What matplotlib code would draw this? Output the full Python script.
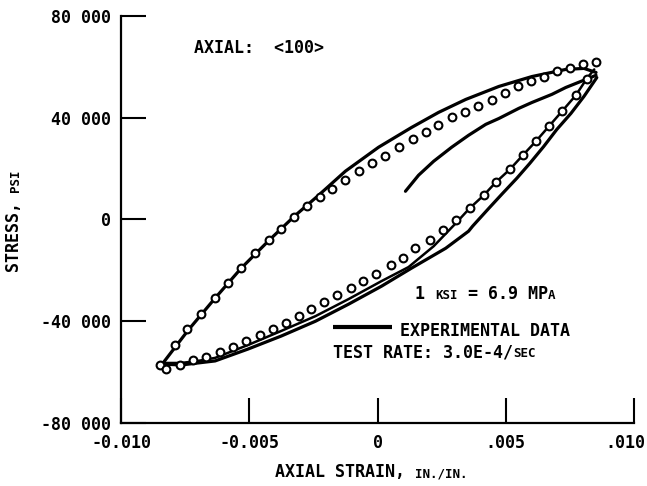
import matplotlib
matplotlib.use("Agg")
import matplotlib.pyplot as plt
import matplotlib.transforms as mtransforms

# ---- data -------------------------------------------------------------
# Model points (open circles): tensile-going branch, then compressive-going branch
model_up_strain = [-0.00848, -0.00789, -0.00742, -0.00688, -0.00633, -0.00582, -0.00531,
                   -0.00477, -0.00422, -0.00375, -0.00324, -0.00273, -0.00223, -0.00176,
                   -0.00125, -0.00074, -0.00023, 0.00031, 0.00082, 0.00137, 0.00188,
                   0.00234, 0.00289, 0.00340, 0.00391, 0.00445, 0.00496, 0.00547,
                   0.00598, 0.00648, 0.00699, 0.00750, 0.00801, 0.00852]
model_up_stress = [-57200, -49300, -43000, -37200, -30900, -25000, -19100, -13200, -8100,
                   -3800, 900, 5200, 8800, 11900, 15400, 19000, 22100, 24800, 28400,
                   31500, 34300, 37000, 40200, 42100, 44500, 46800, 49600, 52300, 54300,
                   56200, 58200, 59400, 61300, 62100]

model_down_strain = [0.00816, 0.00773, 0.00719, 0.00668, 0.00617, 0.00566, 0.00516, 0.00461,
                     0.00414, 0.00359, 0.00305, 0.00254, 0.00203, 0.00148, 0.00098, 0.00051,
                     -0.00004, -0.00055, -0.00105, -0.00156, -0.00207, -0.00258, -0.00305,
                     -0.00355, -0.00406, -0.00457, -0.00512, -0.00563, -0.00613, -0.00668,
                     -0.00719, -0.00770, -0.00824]
model_down_stress = [55400, 48800, 42500, 36600, 30700, 25200, 19700, 14600, 9500, 4400,
                     -300, -4200, -8100, -11300, -15200, -17900, -21500, -24200, -27000,
                     -29700, -32500, -35200, -38000, -40700, -43100, -45400, -47800, -50100,
                     -52100, -54000, -55300, -57200, -58800]

# Experimental data: loading branch of the stable loop
exp_up_strain = [-0.00836, -0.00738, -0.00633, -0.00531, -0.00422, -0.00324, -0.00230,
                 -0.00125, 0.00004, 0.00133, 0.00238, 0.00344, 0.00473, 0.00602, 0.00734,
                 0.00805, 0.00852]
exp_up_stress = [-56400, -43500, -30900, -19100, -8100, 1300, 9500, 19000, 28400, 36200,
                 42100, 47200, 52300, 56200, 59000, 59400, 57800]

# Experimental data: unloading branch of the stable loop
exp_down_strain = [0.00855, 0.00805, 0.00754, 0.00699, 0.00648, 0.00594, 0.00543, 0.00488,
                   0.00434, 0.00371, 0.00355, 0.00266, 0.00133, 0.00016, -0.00113, -0.00242,
                   -0.00375, -0.00504, -0.00633, -0.00700, -0.00766, -0.00844]
exp_down_stress = [55800, 48400, 41700, 35400, 28700, 22100, 16200, 10300, 4400, -2600,
                   -4600, -11300, -19100, -26200, -33300, -40000, -45800, -50900, -55600,
                   -56400, -57200, -56800]

# Second unloading trace
exp_down2_strain = [0.00845, 0.00816, 0.00773, 0.00719, 0.00668, 0.00617, 0.00566, 0.00516,
                    0.00461, 0.00414, 0.00359, 0.00305, 0.00219, 0.00121, 0.00016, -0.00113,
                    -0.00242, -0.00375, -0.00504, -0.00633, -0.00700, -0.00766, -0.00844]
exp_down2_stress = [59000, 55400, 48800, 42500, 36600, 30700, 25200, 19700, 14600, 9500,
                    4400, -1500, -10500, -18700, -24200, -31300, -38000, -43800, -49300,
                    -54400, -55600, -56400, -56400]

# Initial loading curve
exp_init_strain = [0.00109, 0.00160, 0.00219, 0.00289, 0.00355, 0.00422, 0.00473, 0.00551,
                   0.00602, 0.00680, 0.00734, 0.00813, 0.00852]
exp_init_stress = [11100, 17400, 22900, 28400, 33100, 37400, 39700, 43700, 46000, 49200,
                   51900, 55100, 56700]

x_ticks = [-0.010, -0.005, 0.0, 0.005, 0.010]
x_tick_labels = ["-0.010", "-0.005", "0", ".005", ".010"]
y_ticks = [-80000, -40000, 0, 40000, 80000]
y_tick_labels = ["-80 000", "-40 000", "0", "40 000", "80 000"]

# ---- figure -------------------------------------------------------------
W, H = 647, 486
FONT = "DejaVu Sans Mono"
plt.rcParams["font.family"] = FONT
plt.rcParams["font.weight"] = "bold"

fig = plt.figure(figsize=(W / 100, H / 100), dpi=100)
ax = fig.add_axes([121 / W, 1 - 423 / H, (634 - 121) / W, (423 - 16) / H])
ax.set_xlim(-0.010, 0.010)
ax.set_ylim(-80000, 80000)

for side in ("top", "right"):
    ax.spines[side].set_visible(False)
for side in ("left", "bottom"):
    ax.spines[side].set_linewidth(1.6)

# the last x label sits a little inside the axis end, so it is written separately
ax.set_xticks(x_ticks)
ax.set_xticklabels(x_tick_labels[:-1] + [""])
ax.set_yticks(y_ticks)
ax.set_yticklabels(y_tick_labels)
ax.tick_params(direction="in", length=18, width=1.5, pad=7, labelsize=12)
ax.tick_params(axis="x", pad=8)
ax.annotate(x_tick_labels[-1], xy=(x_ticks[-1], 0), xycoords=("data", "axes fraction"),
            xytext=(-6.5, -8), textcoords="offset points", ha="center", va="top",
            fontsize=12, family=FONT, weight="bold")

line_kw = dict(color="black", solid_capstyle="round", solid_joinstyle="round")
ax.plot(exp_up_strain, exp_up_stress, lw=2.3, **line_kw)
ax.plot(exp_down_strain, exp_down_stress, lw=2.3, **line_kw)
ax.plot(exp_down2_strain, exp_down2_stress, lw=1.8, **line_kw)
ax.plot(exp_init_strain, exp_init_stress, lw=2.3, **line_kw)

marker_kw = dict(ls="none", marker="o", ms=5.6, mfc="white", mec="black", mew=1.5, zorder=5)
ax.plot(model_up_strain, model_up_stress, **marker_kw)
ax.plot(model_down_strain, model_down_stress, **marker_kw)


def mixed_text(px, py, parts, rotation=0):
    """Write text pieces of different sizes (small caps) starting at pixel (px, py)."""
    adv = 0.0
    for s, size in parts:
        dx, dy = (adv, 0) if rotation == 0 else (0, adv)
        tr = mtransforms.offset_copy(fig.transFigure, fig=fig, x=dx, y=dy, units="points")
        fig.text(px / W, 1 - py / H, s, fontsize=size, transform=tr, rotation=rotation,
                 rotation_mode="anchor", ha="left", va="baseline",
                 family=FONT, weight="bold")
        adv += len(s) * 0.602 * size


BIG, SMALL = 12, 9
mixed_text(194, 53, [("AXIAL:  <100>", BIG)])
mixed_text(415, 299, [("1 ", BIG), ("KSI", SMALL), (" = 6.9 MP", BIG), ("A", SMALL)])
mixed_text(400, 336, [("EXPERIMENTAL DATA", BIG)])
mixed_text(333, 357, [("TEST RATE: 3.0E-4/", BIG), ("SEC", SMALL)])
mixed_text(275, 477, [("AXIAL STRAIN, ", BIG), ("IN./IN.", SMALL)])
mixed_text(19, 272, [("STRESS, ", BIG), ("PSI", SMALL)], rotation=90)

# legend sample line
fig.add_artist(plt.Line2D([333 / W, 392 / W], [1 - 327 / H, 1 - 327 / H],
                          color="black", lw=3.0, solid_capstyle="butt"))

fig.savefig("out.png", dpi=100)
